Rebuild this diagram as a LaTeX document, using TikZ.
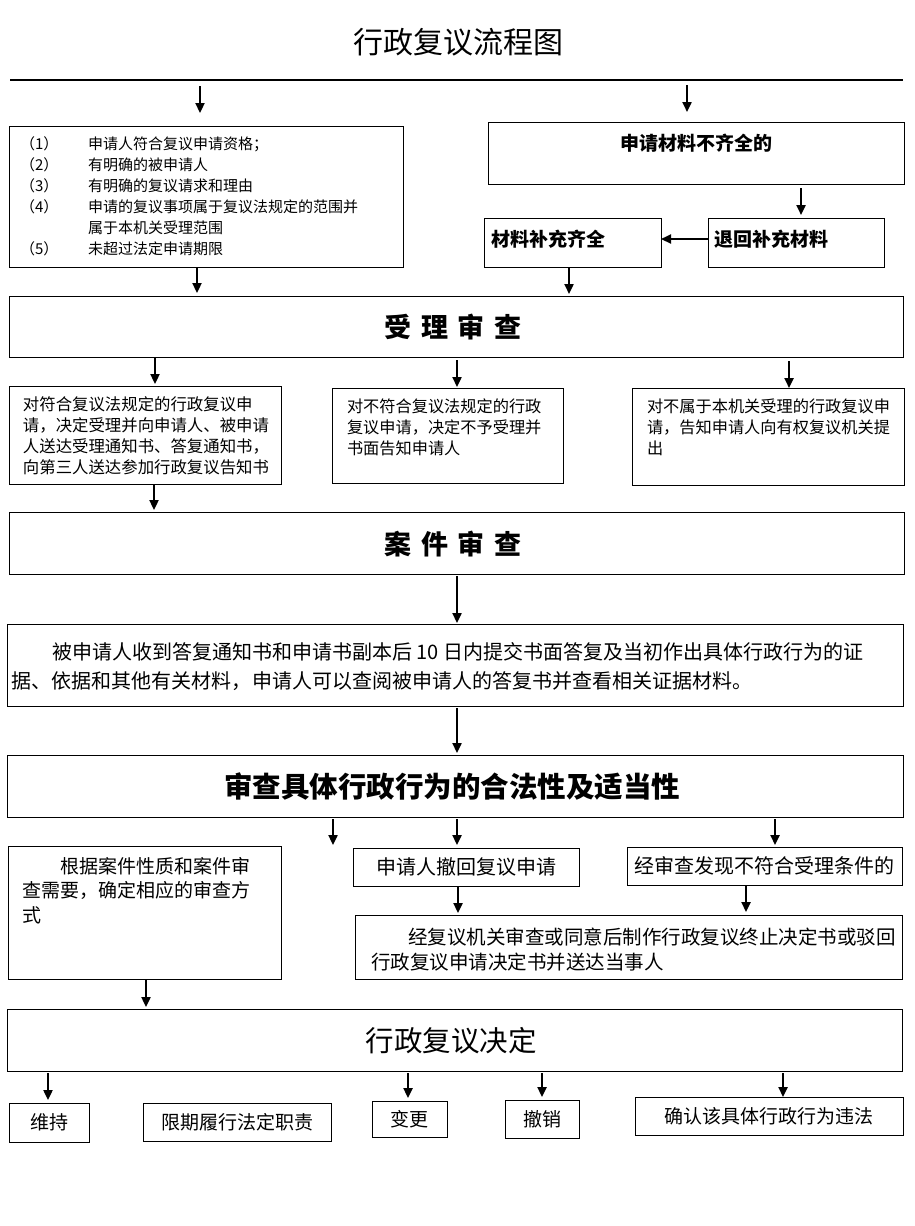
\documentclass[tikz,border=0pt]{standalone}
\usepackage{fontspec}
\setmainfont{Noto Sans CJK SC}
\usetikzlibrary{arrows.meta}
\begin{document}
\begin{tikzpicture}[x=1pt,y=-1pt,
  box/.style={draw, line width=1pt, inner sep=0pt, outer sep=0pt},
  arr/.style={line width=2.3pt, -{Triangle[length=10pt,width=9pt]}},
  txt/.style={inner sep=0pt, outer sep=0pt, align=left}]
\useasboundingbox (0,0) rectangle (914,1226);
% title and rule
\node[txt, font={\fontsize{30pt}{36pt}\selectfont}] (title) at (458,42) {行政复议流程图};
\coordinate (rl) at (10,80);
\coordinate (rr) at (903,80);
\draw[line width=1.2pt] (rl) -- (rr);
% x helpers
\foreach \x in {200,687,801,197,569,155,457,789,154,333,458,775,746,146,48,408,542,783}
  \coordinate (x\x) at (\x,0);
\coordinate (y239) at (0,239);
% boxes
\node[box, minimum width=394pt, minimum height=141pt] (b1) at (206,196.5) {};
\node[box, minimum width=416pt, minimum height=62pt] (bq) at (696,153) {};
\node[box, minimum width=177pt, minimum height=49pt] (bbq) at (572.5,242.5) {};
\node[box, minimum width=176pt, minimum height=49pt] (bth) at (796,242.5) {};
\node[box, minimum width=894pt, minimum height=61pt] (sl) at (456,326.5) {};
\node[box, minimum width=272pt, minimum height=98pt] (ba) at (145,435) {};
\node[box, minimum width=231pt, minimum height=95pt] (bb) at (447.5,435.5) {};
\node[box, minimum width=272pt, minimum height=97pt] (bc) at (768,436.5) {};
\node[box, minimum width=895pt, minimum height=62pt] (aj) at (456.5,543) {};
\node[box, minimum width=896pt, minimum height=82pt] (bt) at (455,665) {};
\node[box, minimum width=896pt, minimum height=62pt] (sc) at (455,786) {};
\node[box, minimum width=273pt, minimum height=133pt] (gj) at (144.5,912.5) {};
\node[box, minimum width=226pt, minimum height=38pt] (ch) at (466,867) {};
\node[box, minimum width=275pt, minimum height=38pt] (jsc) at (764.5,866) {};
\node[box, minimum width=547pt, minimum height=64pt] (jf) at (628.5,947) {};
\node[box, minimum width=895pt, minimum height=62pt] (jd) at (454.5,1040) {};
\node[box, minimum width=80pt, minimum height=39pt] (wc) at (49,1122.5) {};
\node[box, minimum width=188pt, minimum height=38pt] (xq) at (237,1122) {};
\node[box, minimum width=75pt, minimum height=36pt] (bg) at (409.5,1119) {};
\node[box, minimum width=74pt, minimum height=38pt] (cx) at (542,1119) {};
\node[box, minimum width=268pt, minimum height=38pt] (qr) at (769,1116) {};
% texts
\node[txt, anchor=west, font={\fontsize{15pt}{21pt}\selectfont}] (t1n) at (20,196.5)
  {（1）\\（2）\\（3）\\（4）\\\mbox{}\\（5）};
\node[txt, anchor=west, font={\fontsize{15pt}{21pt}\selectfont}] (t1) at (88,196.5)
  {申请人符合复议申请资格；\\有明确的被申请人\\有明确的复议请求和理由\\申请的复议事项属于复议法规定的范围并\\属于本机关受理范围\\未超过法定申请期限};
\node[txt, font={\fontsize{19pt}{23pt}\selectfont\bfseries}] (tq) at (696,143) {申请材料不齐全的};
\node[txt, anchor=west, font={\fontsize{19pt}{23pt}\selectfont\bfseries}] (tbq) at (491,239) {材料补充齐全};
\node[txt, anchor=west, font={\fontsize{19pt}{23pt}\selectfont\bfseries}] (tth) at (714,239) {退回补充材料};
\node[txt, font={\fontsize{27pt}{34pt}\selectfont\bfseries}] (tsl) at (453,327)
  {受\hspace{0.36em}理\hspace{0.36em}审\hspace{0.36em}查};
\node[txt, anchor=west, font={\fontsize{16.4pt}{21pt}\selectfont}] (ta) at (23,435.5)
  {对符合复议法规定的行政复议申\\请，决定受理并向申请人、被申请\\人送达受理通知书、答复通知书，\\向第三人送达参加行政复议告知书};
\node[txt, anchor=west, font={\fontsize{16.2pt}{21pt}\selectfont}] (tb) at (347,427)
  {对不符合复议法规定的行政\\复议申请，决定不予受理并\\书面告知申请人};
\node[txt, anchor=west, font={\fontsize{16.2pt}{21pt}\selectfont}] (tc) at (647,427)
  {对不属于本机关受理的行政复议申\\请，告知申请人向有权复议机关提\\出};
\node[txt, font={\fontsize{27pt}{34pt}\selectfont\bfseries}] (taj) at (453,544)
  {案\hspace{0.36em}件\hspace{0.36em}审\hspace{0.36em}查};
\node[txt, anchor=west, font={\fontsize{20pt}{29pt}\selectfont}] (tbt) at (12,666.5)
  {\hspace*{2em}被申请人收到答复通知书和申请书副本后 10 日内提交书面答复及当初作出具体行政行为的证\\据、依据和其他有关材料，申请人可以查阅被申请人的答复书并查看相关证据材料。};
\node[txt, font={\fontsize{28.5pt}{34pt}\selectfont\bfseries}] (tsc) at (452,786) {审查具体行政行为的合法性及适当性};
\node[txt, anchor=west, font={\fontsize{19pt}{24.5pt}\selectfont}] (tgj) at (23,890.5)
  {\hspace*{2em}根据案件性质和案件审\\查需要，确定相应的审查方\\式};
\node[txt, font={\fontsize{20pt}{24pt}\selectfont}] (tch) at (466,867) {申请人撤回复议申请};
\node[txt, font={\fontsize{20pt}{24pt}\selectfont}] (tjsc) at (764.5,866) {经审查发现不符合受理条件的};
\node[txt, anchor=west, font={\fontsize{19.5pt}{25pt}\selectfont}] (tjf) at (371,949.5)
  {\hspace*{1.9em}经复议机关审查或同意后制作行政复议终止决定书或驳回\\行政复议申请决定书并送达当事人};
\node[txt, font={\fontsize{28.5pt}{34pt}\selectfont}] (tjd) at (451,1041) {行政复议决定};
\node[txt, font={\fontsize{19pt}{23pt}\selectfont}] (twc) at (wc) {维持};
\node[txt, font={\fontsize{19pt}{23pt}\selectfont}] (txq) at (xq) {限期履行法定职责};
\node[txt, font={\fontsize{19pt}{23pt}\selectfont}] (tbg) at (bg) {变更};
\node[txt, font={\fontsize{19pt}{23pt}\selectfont}] (tcx) at (cx) {撤销};
\node[txt, font={\fontsize{19pt}{23pt}\selectfont}] (tqr) at (qr) {确认该具体行政行为违法};
% arrows
\draw[arr, shorten <=6pt, shorten >=13pt] (rl -| x200) -- (b1.north -| x200);
\draw[arr, shorten <=5pt, shorten >=10pt] (rl -| x687) -- (bq.north -| x687);
\draw[arr, shorten <=4pt, shorten >=3pt] (bq.south -| x801) -- (bth.north -| x801);
\draw[arr] (bth.west |- y239) -- (bbq.east |- y239);
\draw[arr, shorten >=3pt] (b1.south -| x197) -- (sl.north -| x197);
\draw[arr, shorten >=2pt] (bbq.south -| x569) -- (sl.north -| x569);
\draw[arr, shorten <=1pt, shorten >=2pt] (sl.south -| x155) -- (ba.north -| x155);
\draw[arr, shorten <=3pt, shorten >=1pt] (sl.south -| x457) -- (bb.north -| x457);
\draw[arr, shorten <=4pt] (sl.south -| x789) -- (bc.north -| x789);
\draw[arr, shorten <=1pt, shorten >=2pt] (ba.south -| x154) -- (aj.north -| x154);
\draw[arr, shorten <=2pt, shorten >=1pt] (aj.south -| x457) -- (bt.north -| x457);
\draw[arr, shorten <=2pt, shorten >=2pt] (bt.south -| x457) -- (sc.north -| x457);
\coordinate (free) at (333,845);
\draw[arr, shorten <=2pt] (sc.south -| free) -- (free);
\draw[arr, shorten <=2pt, shorten >=3pt] (sc.south -| x457) -- (ch.north -| x457);
\draw[arr, shorten <=2pt, shorten >=2pt] (sc.south -| x775) -- (jsc.north -| x775);
\draw[arr, shorten <=1pt, shorten >=2pt] (ch.south -| x458) -- (jf.north -| x458);
\draw[arr, shorten <=1pt, shorten >=3pt] (jsc.south -| x746) -- (jf.north -| x746);
\draw[arr, shorten <=1pt, shorten >=2pt] (gj.south -| x146) -- (jd.north -| x146);
\draw[arr, shorten <=2pt, shorten >=3pt] (jd.south -| x48) -- (wc.north -| x48);
\draw[arr, shorten <=2pt, shorten >=3pt] (jd.south -| x408) -- (bg.north -| x408);
\draw[arr, shorten <=2pt, shorten >=3pt] (jd.south -| x542) -- (cx.north -| x542);
\draw[arr, shorten <=2pt] (jd.south -| x783) -- (qr.north -| x783);
\end{tikzpicture}
\end{document}
